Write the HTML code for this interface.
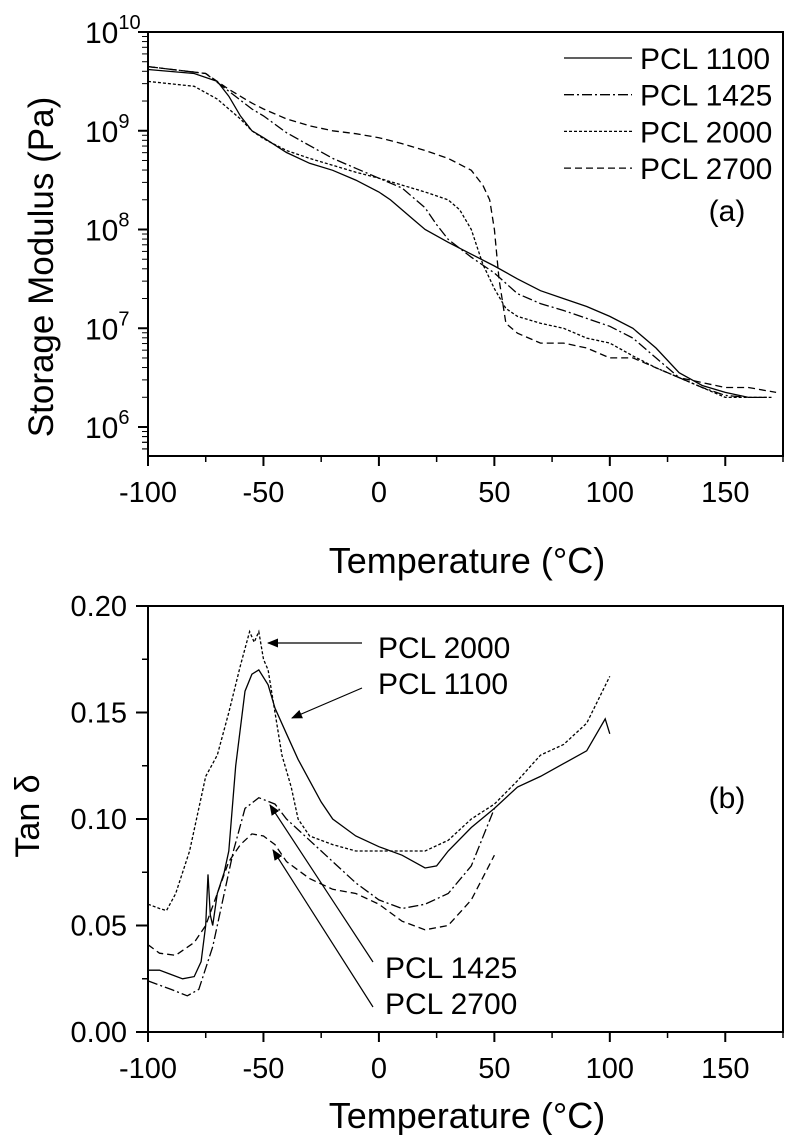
<!DOCTYPE html>
<html><head><meta charset="utf-8"><style>
body{margin:0;background:#fff;}
svg{font-family:"Liberation Sans",Arial,sans-serif;}
</style></head><body>
<svg id="fig" width="800" height="1135" viewBox="0 0 800 1135" xmlns="http://www.w3.org/2000/svg"></svg>
<script>
const tempsA1=[-100,-80,-70,-65,-60,-55,-50,-40,-30,-20,-10,0,5,10,15,20,30,40,50,60,70,80,90,100,110,120,130,140,150,160,168];
const logE1100=[9.62,9.58,9.5,9.35,9.15,9.0,8.93,8.78,8.67,8.6,8.5,8.38,8.3,8.2,8.1,8.0,7.87,7.75,7.63,7.5,7.38,7.3,7.22,7.12,7.0,6.8,6.55,6.42,6.35,6.3,6.3];
const tempsA2=[-100,-75,-65,-55,-50,-40,-30,-20,-10,0,10,20,25,30,40,50,60,70,80,90,100,110,120,130,140,150,160];
const logE1425=[9.65,9.58,9.4,9.22,9.15,8.98,8.85,8.72,8.62,8.52,8.42,8.22,8.05,7.9,7.72,7.56,7.35,7.25,7.18,7.1,7.02,6.9,6.7,6.5,6.4,6.32,6.3];
const tempsA3=[-100,-80,-70,-60,-55,-50,-40,-30,-20,-10,0,10,20,30,35,40,45,50,55,60,70,80,90,100,110,120,130,140,150,160,170];
const logE2000=[9.5,9.45,9.32,9.12,9.0,8.92,8.8,8.72,8.65,8.58,8.52,8.45,8.38,8.3,8.2,8.0,7.65,7.4,7.2,7.12,7.05,7.0,6.9,6.85,6.72,6.6,6.5,6.4,6.3,6.3,6.3];
const tempsA4=[-100,-75,-65,-55,-50,-40,-30,-20,-10,0,10,20,30,40,45,48,50,52,55,60,70,80,90,100,110,120,130,140,150,160,172];
const logE2700=[9.65,9.58,9.42,9.28,9.22,9.12,9.05,9.0,8.97,8.93,8.87,8.8,8.72,8.6,8.45,8.3,8.0,7.5,7.05,6.95,6.85,6.85,6.8,6.7,6.7,6.6,6.5,6.45,6.4,6.4,6.35];

const tempsB1=[-100,-95,-90,-85,-80,-77,-75,-74,-73,-72,-70,-67,-65,-62,-58,-55,-52,-48,-45,-40,-35,-30,-25,-20,-10,0,10,20,25,30,40,50,60,70,80,90,98,100];
const tan1100=[0.029,0.029,0.027,0.025,0.026,0.033,0.05,0.074,0.055,0.05,0.065,0.075,0.085,0.125,0.16,0.168,0.17,0.163,0.152,0.14,0.128,0.118,0.108,0.1,0.092,0.087,0.083,0.077,0.078,0.085,0.096,0.105,0.115,0.12,0.126,0.132,0.147,0.14];
const tempsB2=[-100,-95,-92,-88,-82,-75,-70,-65,-60,-56,-54,-52,-50,-48,-45,-42,-38,-35,-30,-20,-10,0,10,20,30,40,50,60,70,80,90,100];
const tan2000=[0.06,0.058,0.057,0.065,0.085,0.12,0.13,0.15,0.172,0.188,0.183,0.188,0.175,0.17,0.15,0.13,0.115,0.1,0.092,0.088,0.085,0.085,0.085,0.085,0.09,0.1,0.107,0.118,0.13,0.135,0.145,0.167];
const tempsB3=[-100,-90,-83,-78,-72,-68,-63,-58,-52,-45,-40,-30,-20,-10,0,10,20,30,40,50];
const tan1425=[0.024,0.02,0.017,0.02,0.04,0.06,0.085,0.105,0.11,0.107,0.1,0.09,0.08,0.07,0.062,0.058,0.06,0.065,0.078,0.105];
const tempsB4=[-100,-95,-88,-80,-75,-70,-65,-60,-55,-50,-45,-40,-30,-20,-10,0,10,20,30,40,50];
const tan2700=[0.041,0.037,0.036,0.042,0.05,0.065,0.08,0.088,0.093,0.092,0.088,0.08,0.072,0.067,0.065,0.06,0.052,0.048,0.05,0.062,0.083];

const xTicks=[-100,-50,0,50,100,150];
const yTicksA=[6,7,8,9,10];
const yTicksB=[0.00,0.05,0.10,0.15,0.20];
const legendNames=["PCL 1100","PCL 1425","PCL 2000","PCL 2700"];

const NS="http://www.w3.org/2000/svg";
const svg=document.getElementById('fig');
const X0=148,X1=783;
const xs=t=>X0+(t+100)*(X1-X0)/275;
const ysA=v=>32+(10-v)*98.75;
const BT=606,BB=1032;
const ysB=v=>BB-v*(BB-BT)/0.2;
const dashes=["","10,3,2,3","3,2","7,4"];
function mk(tag,attrs,parent){const e=document.createElementNS(NS,tag);for(const k in attrs)e.setAttribute(k,attrs[k]);(parent||svg).appendChild(e);return e;}
function txt(x,y,s,size,anchor){const t=mk('text',{x:x,y:y,'font-size':size,'text-anchor':anchor||'middle',fill:'#000'});t.textContent=s;return t;}
function line(ts,vs,yf,d){let p='';ts.forEach((t,i)=>{p+=(i?'L':'M')+xs(t).toFixed(1)+','+yf(vs[i]).toFixed(1);});const e=mk('path',{d:p,fill:'none',stroke:'#000','stroke-width':1.3,'stroke-dasharray':d});return e;}

// panel A
let fa=mk('rect',{x:X0,y:32,width:X1-X0,height:424,fill:'none',stroke:'#000','stroke-width':2});

xTicks.forEach(t=>{mk('line',{x1:xs(t),x2:xs(t),y1:456,y2:466,stroke:'#000','stroke-width':2});let l=txt(xs(t),502,String(t),29);});
[-75,-25,25,75,125,175].forEach(t=>mk('line',{x1:xs(t),x2:xs(t),y1:456,y2:462,stroke:'#000','stroke-width':1.5}));
yTicksA.forEach(v=>{mk('line',{x1:X0-10,x2:X0,y1:ysA(v),y2:ysA(v),stroke:'#000','stroke-width':2});
 let t=mk('text',{x:85,y:ysA(v)+11,'font-size':30,'text-anchor':'start'});t.textContent='10';let s=mk('tspan',{dy:-14,'font-size':20},t);s.textContent=String(v);
 
 for(let m=2;m<10;m++){const y=ysA(v-1+Math.log10(m));if(y<456)mk('line',{x1:X0-6,x2:X0,y1:y,y2:y,stroke:'#000','stroke-width':1});}
});
for(let m=5;m<10;m++){const y=ysA(5+Math.log10(m));if(y<456)mk('line',{x1:X0-6,x2:X0,y1:y,y2:y,stroke:'#000','stroke-width':1});}
let la=[[tempsA1,logE1100],[tempsA2,logE1425],[tempsA3,logE2000],[tempsA4,logE2700]];
la.forEach((s,i)=>{const e=line(s[0],s[1],ysA,dashes[i]);});
legendNames.forEach((n,i)=>{const y=58+i*36.7;mk('line',{x1:564,x2:632,y1:y,y2:y,stroke:'#000','stroke-width':1.3,'stroke-dasharray':dashes[i]});const t=txt(640,y+11,n,30,'start');});
let pa=txt(727,221,'(a)',30);
let xta=txt(467,573,'Temperature (°C)',36);
let yta=mk('text',{x:0,y:0,'font-size':35,'text-anchor':'middle',transform:'translate(53,267) rotate(-90)'});yta.textContent='Storage Modulus (Pa)';


// panel B
let fb=mk('rect',{x:X0,y:BT,width:X1-X0,height:BB-BT,fill:'none',stroke:'#000','stroke-width':2});

xTicks.forEach(t=>{mk('line',{x1:xs(t),x2:xs(t),y1:BB,y2:BB+10,stroke:'#000','stroke-width':2});let l=txt(xs(t),1078,String(t),29);});
[-75,-25,25,75,125,175].forEach(t=>mk('line',{x1:xs(t),x2:xs(t),y1:BB,y2:BB+6,stroke:'#000','stroke-width':1.5}));
yTicksB.forEach(v=>{mk('line',{x1:X0-12,x2:X0,y1:ysB(v),y2:ysB(v),stroke:'#000','stroke-width':2});let t=txt(127,ysB(v)+10,v.toFixed(2),29,'end');
 if(v<0.2){const y=ysB(v+0.025);mk('line',{x1:X0-6,x2:X0,y1:y,y2:y,stroke:'#000','stroke-width':1.5});}});
let lb=[[tempsB1,tan1100],[tempsB3,tan1425],[tempsB2,tan2000],[tempsB4,tan2700]];
lb.forEach((s,i)=>{const e=line(s[0],s[1],ysB,dashes[i]);});
const defs=mk('defs',{});const mkr=mk('marker',{id:'ah',markerWidth:11,markerHeight:9,refX:10,refY:4.5,orient:'auto',markerUnits:'userSpaceOnUse'},defs);mk('path',{d:'M0,0L11,4.5L0,9z',fill:'#000'},mkr);
[[362,643,268,643,'PCL 2000',378,658],[362,688,292,718,'PCL 1100',378,694],[373,962,270,805,'PCL 1425',385,978],[373,1007,273,850,'PCL 2700',385,1014]].forEach(a=>{
 const l=mk('line',{x1:a[0],y1:a[1],x2:a[2],y2:a[3],stroke:'#000','stroke-width':1.2,'marker-end':'url(#ah)'});
 const t=txt(a[5],a[6],a[4],30,'start');});
let pb=txt(727,808,'(b)',30);
let xtb=txt(467,1128,'Temperature (°C)',36);
let ytb=mk('text',{x:0,y:0,'font-size':34,'text-anchor':'middle',transform:'translate(39,816) rotate(-90)'});ytb.textContent='Tan δ';

</script>
</body></html>
